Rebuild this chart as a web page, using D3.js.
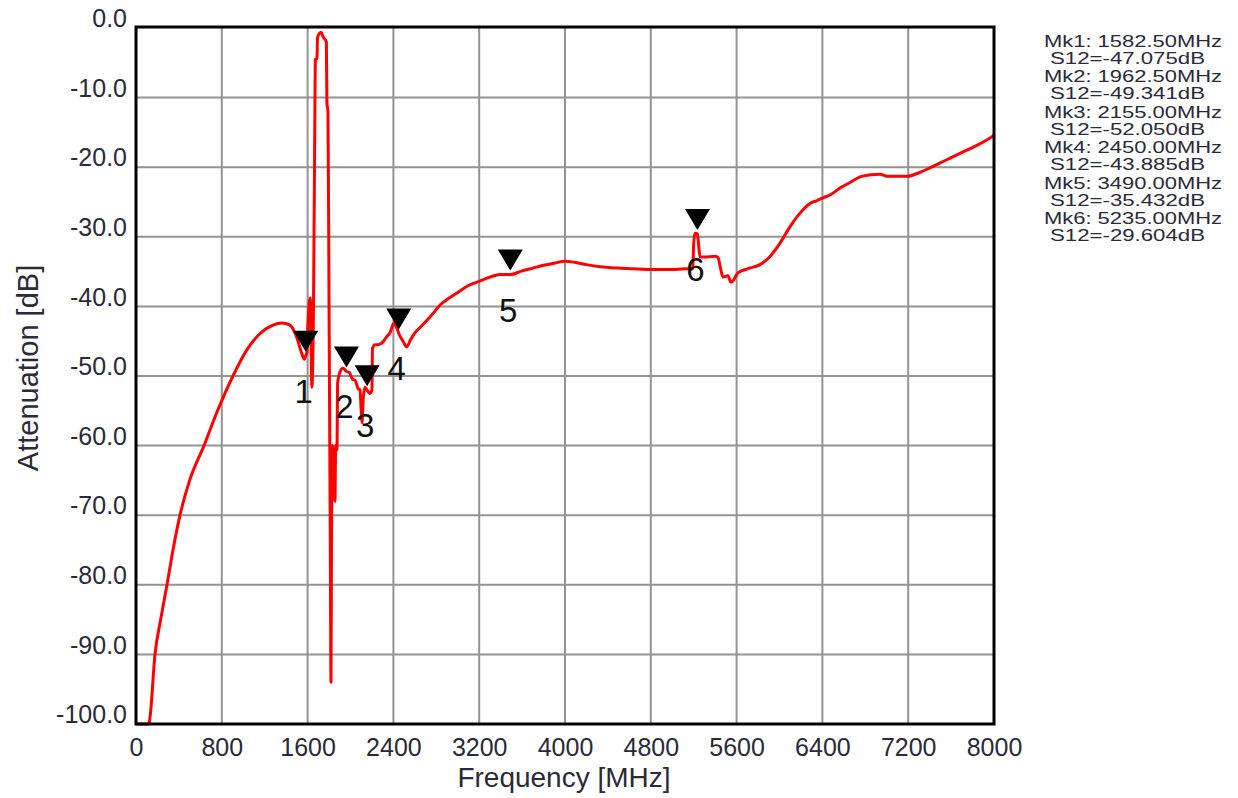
<!DOCTYPE html>
<html><head><meta charset="utf-8">
<script src="https://cdn.jsdelivr.net/npm/d3@7"></script>
<style>body{margin:0;background:#fff}svg{display:block}text{font-family:"Liberation Sans",Arial,sans-serif}</style>
</head><body><svg id="c" width="1238" height="798"></svg>
<script>
const freqs = [0,120,131,177,230,289,345,410,500,634,760,904,1044,1150,1277,1361,1436,1500,1540,1570,1582.5,1595,1604,1625,1640,1655,1669,1672,1688,1692,1710,1725,1745,1775,1780,1790,1800,1812,1818,1824,1832,1845,1855,1862,1874,1880,1900,1930,1962.5,1990,2020,2042,2070,2088,2100,2107,2120,2135,2155,2180,2200,2205,2230,2260,2303,2340,2368,2406,2430,2450,2490,2524,2560,2600,2650,2713,2770,2835,2920,3000,3100,3200,3300,3394,3490,3600,3700,3800,3900,4000,4100,4200,4328,4500,4634,4800,5000,5119,5190,5200,5212,5235,5245,5259,5300,5400,5427,5450,5473,5520,5545,5567,5590,5613,5700,5818,5900,6005,6100,6191,6284,6350,6406,6471,6564,6657,6751,6850,6937,7002,7100,7189,7300,7403,7550,7683,7850,7991,8000];
const s12 = [-100,-100,-99,-90,-85,-80,-75,-70,-65,-60,-55,-50,-46,-44,-42.7,-42.4,-42.7,-44.5,-46.5,-47.6,-47.075,-46.5,-42.3,-38.8,-51.6,-40,-10,-4.5,-4.4,-1.4,-0.8,-0.6,-1.3,-2,-10.8,-12,-40,-75,-94,-70,-60,-65,-68,-60,-60.6,-51,-49.5,-48.9,-49.341,-49.5,-50.5,-50.6,-51.8,-52,-55,-56.7,-53,-51.6,-52.05,-52.5,-52,-46,-45.5,-45.5,-45.1,-44.3,-43.8,-42.4,-43,-43.885,-45,-45.8,-44.8,-43.8,-43,-42,-41,-39.8,-38.8,-38,-37,-36.4,-35.8,-35.4,-35.432,-34.9,-34.5,-34.1,-33.8,-33.5,-33.7,-34,-34.3,-34.5,-34.6,-34.7,-34.7,-34.6,-34.6,-31,-29.5,-29.604,-31,-32.9,-32.9,-32.8,-33,-34.5,-35.8,-35.6,-36.5,-36.3,-35.7,-35.2,-34.6,-34,-33,-30.9,-28.5,-26.6,-25.2,-24.8,-24.4,-24,-23,-22.2,-21.4,-21.1,-21,-21.3,-21.3,-21.3,-20.8,-20.1,-19,-18,-16.8,-15.5,-15.4];
const markerNames = ["1","2","3","4","5","6"];
const markerFreqs = [1582.5,1962.5,2155,2450,3490,5235];
const markerVals = [-47.075,-49.341,-52.050,-43.885,-35.432,-29.604];
const xTicks = [0,800,1600,2400,3200,4000,4800,5600,6400,7200,8000];
const yTicks = [0,-10,-20,-30,-40,-50,-60,-70,-80,-90,-100];

const svg = d3.select("#c");
const L=136,R=994,T=28,B=724;
const x = d3.scaleLinear().domain([0,8000]).range([L,R]);
const y = d3.scaleLinear().domain([-100,0]).range([B,T]);
const txt = "#2a2a38";

// grid
svg.append("g").selectAll("line").data(xTicks.slice(1,-1)).join("line")
  .attr("x1",d=>x(d)).attr("x2",d=>x(d)).attr("y1",T).attr("y2",B)
  .attr("stroke","#939393").attr("stroke-width",2);
svg.append("g").selectAll("line").data(yTicks.slice(1,-1)).join("line")
  .attr("x1",L).attr("x2",R).attr("y1",d=>y(d)).attr("y2",d=>y(d))
  .attr("stroke","#939393").attr("stroke-width",2);

// axes with tick labels
const xa = svg.append("g").attr("transform",`translate(0,${B})`)
  .call(d3.axisBottom(x).tickValues(xTicks).tickSize(0).tickPadding(14).tickFormat(d=>String(d)));
xa.select(".domain").remove();
xa.selectAll("text").attr("font-size",25).attr("fill",txt).attr("font-family","Liberation Sans, Arial");
const ya = svg.append("g").attr("transform",`translate(${L},0)`)
  .call(d3.axisLeft(y).tickValues(yTicks).tickSize(0).tickPadding(9).tickFormat(d=>d.toFixed(1)));
ya.select(".domain").remove();
ya.selectAll("text").attr("font-size",25).attr("fill",txt).attr("font-family","Liberation Sans, Arial").attr("dy","-0.05em");

// curve
const pts = freqs.map((f,i)=>[f,s12[i]]);
svg.append("path").datum(pts)
  .attr("d",d3.line().curve(d3.curveMonotoneX).x(d=>x(d[0])).y(d=>y(d[1])))
  .attr("fill","none").attr("stroke","#ff0000").attr("stroke-width",3).attr("stroke-linejoin","round");

// frame
svg.append("rect").attr("x",L).attr("y",T-1).attr("width",R-L).attr("height",B-T+1)
  .attr("fill","none").attr("stroke","#000").attr("stroke-width",3);

// markers
const mk = svg.append("g");
markerFreqs.forEach((f,i)=>{
  const px=x(f), py=y(markerVals[i]);
  mk.append("path").attr("d",`M${px-12.5},${py-25}L${px+12.5},${py-25}L${px},${py-4}Z`).attr("fill","#000");
  mk.append("text").attr("x",px-2).attr("y",py+47).attr("text-anchor","middle")
    .attr("font-size",33).attr("fill","#111").text(markerNames[i]);
});

// marker readout
const rd = svg.append("g").attr("font-size",16).attr("fill",txt);
markerFreqs.forEach((f,i)=>{
  rd.append("text").attr("x",1044).attr("y",47+i*35.4)
    .attr("textLength",178).attr("lengthAdjust","spacingAndGlyphs")
    .text(`Mk${markerNames[i]}: ${f.toFixed(2)}MHz`);
  rd.append("text").attr("x",1050).attr("y",64+i*35.4)
    .attr("textLength",155).attr("lengthAdjust","spacingAndGlyphs")
    .text(`S12=${markerVals[i].toFixed(3)}dB`);
});

// titles
svg.append("text").attr("x",564).attr("y",787).attr("text-anchor","middle")
  .attr("font-size",28).attr("fill",txt).text("Frequency [MHz]");
svg.append("text").attr("transform","translate(38,368) rotate(-90)").attr("text-anchor","middle")
  .attr("font-size",29).attr("fill",txt).text("Attenuation [dB]");
</script></body></html>
